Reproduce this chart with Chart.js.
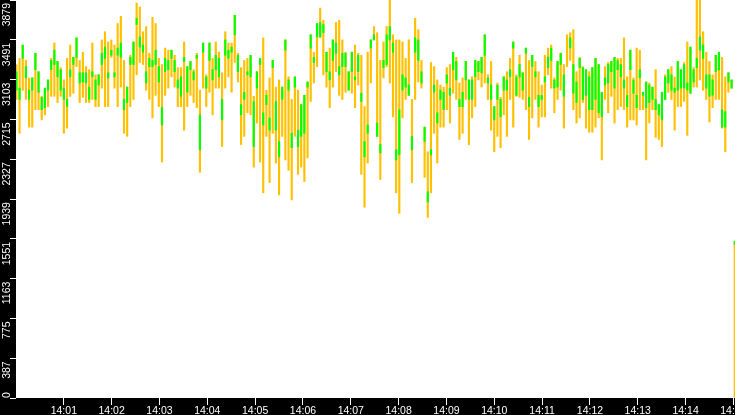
<!DOCTYPE html>
<html>
<head>
<meta charset="utf-8">
<script src="https://cdn.jsdelivr.net/npm/chart.js@4/dist/chart.umd.min.js"></script>
<style>
  html, body { margin: 0; padding: 0; background: #000; }
  #wrap { width: 735px; height: 415px; }
</style>
</head>
<body>
<div id="wrap"><canvas id="chart" width="735" height="415"></canvas></div>
<script>
// ===== DATOS =====
// one column every ~3.97 s starting at 14:00:00
const startSec = 0.5;
const stepSec = 3.97;

const yTicks = [0, 387, 775, 1163, 1551, 1939, 2327, 2715, 3103, 3491, 3879];
const minuteMarks = [60, 120, 180, 240, 300, 360, 420, 480, 540, 600, 660, 720, 780, 840, 900];
const minuteLabels = ['14:01', '14:02', '14:03', '14:04', '14:05', '14:06', '14:07', '14:08',
  '14:09', '14:10', '14:11', '14:12', '14:13', '14:14', '14:15'];

const orangeHigh = [
  3250,3310,3440,3290,3120,3120,3360,3180,2940,3000,
  3100,3310,3460,3280,3220,3100,3310,3440,3320,3510,
  3290,3370,3230,3200,3460,3150,3150,3490,3570,3470,
  3490,3440,3650,3720,3290,3030,3340,3470,3850,3810,
  3570,3620,3360,3710,3650,3310,3250,3410,3390,3390,
  3340,3220,3220,3470,3230,3280,3200,3360,3000,3460,
  3150,3460,3310,3470,3370,3170,3570,3460,3460,3730,
  3360,3220,3290,3310,3340,2940,3180,3310,3510,3000,
  3120,3290,3030,3100,3030,3490,3130,2910,3130,3000,
  2860,2950,3080,3540,3370,3650,3800,3680,3370,3410,
  3490,3660,3680,3490,3370,3180,3370,3440,3360,3340,
  2840,3370,3490,3620,3560,3290,3470,3620,3879,3540,
  3490,3490,3470,3310,3490,2910,3700,3590,3290,2640,
  2400,3270,3230,3100,3050,3030,3220,3250,3370,3320,
  3070,3120,3280,3100,3130,3290,3280,3320,3540,3150,
  3280,2840,3070,2930,3130,3180,3310,3470,3150,3340,
  3170,3410,3290,3340,3280,3180,3050,3340,3410,3440,
  3120,3280,3360,3250,3540,3560,3590,3180,3320,3230,
  3200,3180,3220,3310,3250,2980,3230,3270,3280,3320,
  3310,3310,3510,3130,3390,3120,3410,3390,2980,3080,
  3070,3030,3200,2860,2980,3150,3200,3230,3130,3280,
  3200,3270,3470,3420,3220,3879,3879,3570,3370,3280,
  3150,3340,3370,3320,3130,3170,3100,1520
];

const orangeLow = [
  2910,2580,3000,2910,2640,2640,2810,2810,2710,2760,
  2840,2940,2940,2880,2940,2580,2630,2940,2970,3230,
  2880,2930,2880,2880,2910,2840,2840,3020,2840,2840,
  3320,3020,2840,3030,2580,2550,2840,2910,3150,3270,
  3250,3000,2910,2730,2950,2840,2300,2950,3020,3130,
  3030,2840,2840,2610,2840,2950,2880,2830,2200,3020,
  2840,2980,2760,3020,3020,2450,3020,3130,2980,3270,
  3080,2470,2550,2780,2760,2250,2680,2300,2000,2550,
  2100,2580,2290,1980,2550,2320,2220,1930,2550,2180,
  2250,2110,2340,2890,3070,3230,3510,3150,3030,2830,
  3030,3180,2950,2910,2980,3000,2970,2830,3050,2180,
  1860,2290,3070,3490,2550,2130,3120,3230,3070,2740,
  2000,1800,2730,2910,2950,2100,2910,3080,3020,2150,
  1760,2000,2580,2290,2640,2640,2810,2680,2970,2910,
  2520,2580,2910,2470,2730,2840,3100,3030,3070,2910,
  2610,2400,2550,2440,2760,2550,2910,2640,2940,2930,
  2910,2810,2520,2730,2910,2640,2740,2740,3150,3020,
  2780,2910,3000,2630,3230,3290,2810,2680,2730,2880,
  2630,2590,2590,2640,2730,2320,2910,2780,2940,2680,
  2810,2840,2810,2640,2710,2710,2660,2810,2810,2320,
  2680,2810,2540,2520,2450,2910,2980,2910,2610,2840,
  2840,2890,2560,2970,3030,3030,3100,3000,2910,2690,
  2830,2910,2910,2630,2400,2980,3020,0
];

const greenHigh = [
  3180,3020,3440,3230,3000,3120,3360,3180,2930,3020,
  3100,3290,3390,3280,3200,3020,2910,3200,3320,3510,
  3170,3170,3170,3030,3180,3100,3150,3360,3420,3170,
  3390,3170,3410,3460,2910,3030,3320,3470,3700,3520,
  3440,3180,3310,3290,3390,3230,2830,3310,3290,3390,
  3290,3100,3130,3320,3230,3280,3180,3340,2760,3460,
  3130,3460,3200,3340,3310,2910,3490,3390,3420,3730,
  3340,2860,2980,3180,3340,2890,3180,3310,2780,2950,
  2730,3290,2890,2500,3030,3490,3100,2580,3130,2610,
  2860,2950,3080,3540,3320,3650,3660,3640,3370,3180,
  3490,3460,3230,3360,3360,3180,3370,3130,3340,2970,
  2500,2660,3490,3540,2680,2470,3290,3540,3620,3460,
  2420,2810,3150,3120,3050,2550,3510,3490,3180,2640,
  2010,2420,3050,2780,3000,2980,3150,3020,3370,3280,
  2910,2980,3280,3100,3100,3290,3280,3320,3540,3120,
  3050,2840,3050,2910,3130,3100,3200,3470,3130,3250,
  3170,3410,2930,3340,3180,2950,2950,3130,3320,3410,
  3100,3280,3360,3150,null,3510,3250,3080,3310,3220,
  3200,3130,3220,3310,3250,2980,3120,3250,3280,3320,
  3290,3250,3100,2950,3390,3100,2950,3200,2980,3080,
  3050,3030,2910,2860,2980,3130,3200,3150,3020,3280,
  3200,3250,3070,3420,3200,3310,3520,3440,3150,3150,
  3100,3340,3370,2810,2790,3170,3100,1530
];

const greenLow = [
  3000,2910,3310,3120,2910,3000,3200,2980,2810,2830,
  3000,3200,3250,3130,3000,2910,2840,3130,3250,3320,
  3070,3080,3070,2910,3130,2910,3050,3250,3310,3120,
  3340,3130,3340,3320,2810,2880,3250,3250,3640,3420,
  3370,3070,3230,3230,3250,3080,2660,3180,3200,3310,
  3180,3020,2940,3280,2980,3200,3100,3310,2420,3370,
  3020,3290,3100,3200,3130,2710,3340,3310,3370,3540,
  3180,2760,2910,3150,3130,2450,3020,3250,2660,2860,
  2610,3220,2610,2350,2910,3390,3000,2440,3030,2450,
  2550,2580,3030,3410,3270,3520,3520,3560,3180,3100,
  3290,3360,3150,3230,3230,3000,3180,3100,3180,2890,
  2350,2580,3410,3490,2550,2390,3220,3250,3490,3370,
  2320,2370,3000,3030,2950,2420,3370,3290,3070,2500,
  1910,2370,2980,2680,2910,2810,3070,2950,3200,3100,
  2840,2840,3100,2910,2910,3130,3180,3170,3340,3070,
  2910,2710,2910,2740,3000,3000,3130,3410,2950,3130,
  3000,3360,2840,3230,3130,2840,2910,3080,3220,3290,
  3020,3030,3250,2940,null,3410,2970,2880,3220,2910,
  2950,2810,2810,2910,2780,2740,3050,3070,3180,3020,
  3200,3130,3020,2840,3200,2970,2830,3120,2950,2830,
  2880,2910,2810,2760,2710,2910,3070,3000,2980,3000,
  3020,3020,3000,2970,3080,3220,3390,3310,3020,2940,
  2950,3180,3200,2640,2640,3080,3020,1500
];

// ===== CONSTRUIR PUNTOS =====
function toBars(high, low) {
    return high
        .map((h, i) => (h == null ? null : { x: startSec + i * stepSec, y: [low[i], h] }))
        .filter(p => p !== null);
}

// black frame + white plot area
const framePlugin = {
    id: 'frame',
    beforeDraw(chart) {
        const { ctx, chartArea: a } = chart;
        ctx.save();
        ctx.fillStyle = '#000';
        ctx.fillRect(0, 0, chart.width, chart.height);
        ctx.fillStyle = '#fff';
        ctx.fillRect(a.left, a.top, a.right - a.left, a.bottom - a.top);
        ctx.restore();
    },
    afterDraw(chart) {
        // rotated y labels, sitting just under their tick
        const { ctx, chartArea: a } = chart;
        const ys = chart.scales.y;
        ctx.save();
        ctx.fillStyle = '#fff';
        ctx.font = '10.5px "Liberation Sans", Arial, sans-serif';
        ctx.textBaseline = 'alphabetic';
        yTicks.forEach(v => {
            const py = ys.getPixelForValue(v);
            const label = String(v);
            const w = ctx.measureText(label).width;
            ctx.save();
            if (py + 3 + w > a.bottom) {
                ctx.translate(a.left - 6, py);
                ctx.rotate(-Math.PI / 2);
                ctx.textAlign = 'left';
            } else {
                ctx.translate(a.left - 6, py + 3);
                ctx.rotate(-Math.PI / 2);
                ctx.textAlign = 'right';
            }
            ctx.fillText(label, 0, 0);
            ctx.restore();
        });
        ctx.restore();
    }
};

new Chart(document.getElementById('chart'), {
    type: 'bar',
    data: {
        datasets: [
            {
                label: 'green',
                data: toBars(greenHigh, greenLow),
                backgroundColor: '#00ff00',
                barThickness: 1.5,
                grouped: false,
                borderWidth: 0
            },
            {
                label: 'orange',
                data: toBars(orangeHigh, orangeLow),
                backgroundColor: '#ffc000',
                barThickness: 1.5,
                grouped: false,
                borderWidth: 0
            }
        ]
    },
    options: {
        responsive: false,
        animation: false,
        devicePixelRatio: 1,
        events: [],
        layout: { padding: 0 },
        plugins: {
            legend: { display: false },
            tooltip: { enabled: false }
        },
        scales: {
            x: {
                type: 'linear',
                min: 0,
                max: 902,
                offset: false,
                afterBuildTicks: scale => {
                    scale.ticks = minuteMarks.map(v => ({ value: v }));
                },
                afterFit: scale => {
                    scale.height = 17;
                    scale.paddingLeft = 0;
                    scale.paddingRight = 0;
                },
                grid: {
                    offset: false,
                    drawOnChartArea: false,
                    color: '#fff',
                    tickLength: 7,
                    tickWidth: 1
                },
                border: { display: false },
                ticks: {
                    autoSkip: false,
                    maxRotation: 0,
                    minRotation: 0,
                    padding: 0,
                    color: '#fff',
                    font: { family: '"Liberation Sans", Arial, sans-serif', size: 10.5 },
                    callback: (value) => {
                        const i = minuteMarks.indexOf(value);
                        return i >= 0 ? minuteLabels[i] : '';
                    }
                }
            },
            y: {
                type: 'linear',
                min: 0,
                max: 3879,
                afterBuildTicks: scale => {
                    scale.ticks = yTicks.map(v => ({ value: v }));
                },
                afterFit: scale => {
                    scale.width = 16;
                    scale.paddingTop = 0;
                    scale.paddingBottom = 0;
                },
                grid: {
                    drawOnChartArea: false,
                    color: '#fff',
                    tickLength: 6
                },
                border: { display: false },
                ticks: { display: false }
            }
        }
    },
    plugins: [framePlugin]
});
</script>
</body>
</html>
